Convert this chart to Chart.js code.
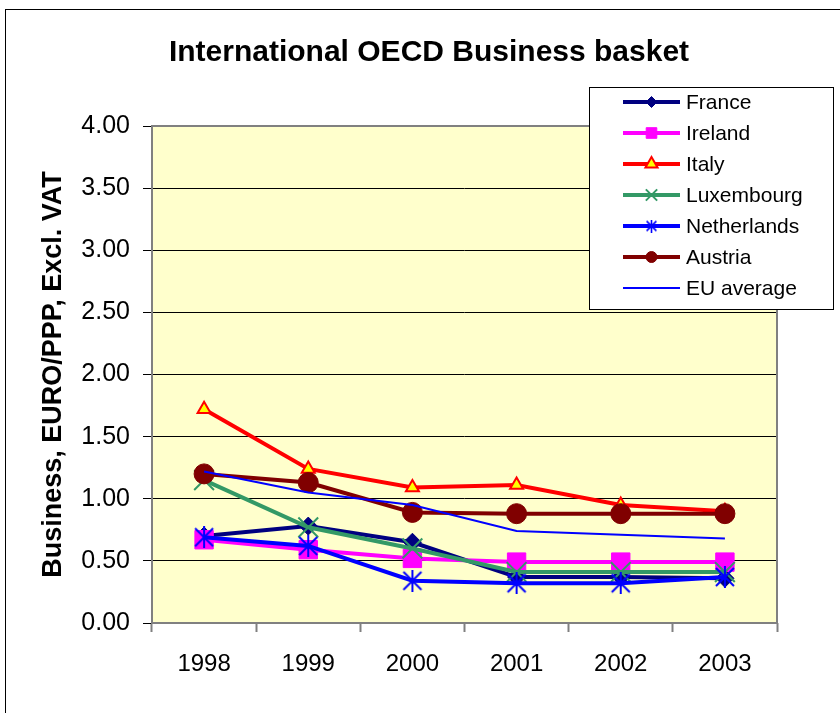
<!DOCTYPE html>
<html><head><meta charset="utf-8">
<script src="https://cdn.jsdelivr.net/npm/chart.js@4"></script>
<style>html,body{margin:0;padding:0;background:#fff;}#wrap{width:840px;height:713px;}</style>
</head><body><div id="wrap"><canvas id="c" width="840" height="713"></canvas></div>
<script>
const chartTitle = 'International OECD Business basket';
const yAxisTitle = 'Business, EURO/PPP, Excl. VAT';
const years = ['1998', '1999', '2000', '2001', '2002', '2003'];
const seriesNames = ['France', 'Ireland', 'Italy', 'Luxembourg', 'Netherlands', 'Austria', 'EU average'];
const france = [0.70, 0.78, 0.65, 0.37, 0.37, 0.36];
const ireland = [0.67, 0.59, 0.52, 0.49, 0.49, 0.49];
const italy = [1.72, 1.24, 1.09, 1.11, 0.95, 0.90];
const luxembourg = [1.15, 0.77, 0.60, 0.41, 0.41, 0.41];
const netherlands = [0.69, 0.62, 0.34, 0.32, 0.32, 0.37];
const austria = [1.20, 1.13, 0.89, 0.88, 0.88, 0.88];
const euAverage = [1.22, 1.05, 0.95, 0.74, 0.71, 0.68];
const yMin = 0, yMax = 4, yStep = 0.5;

const FONT = '"Liberation Sans", Arial, sans-serif';

function asterisk(size, lw) {
  const c = document.createElement('canvas');
  c.width = size; c.height = size;
  const g = c.getContext('2d');
  g.strokeStyle = '#0000FF'; g.lineWidth = lw; g.lineCap = 'butt';
  const m = size / 2, p = lw;
  g.beginPath();
  g.moveTo(m, 0); g.lineTo(m, size);
  g.moveTo(p, p); g.lineTo(size - p, size - p);
  g.moveTo(size - p, p); g.lineTo(p, size - p);
  g.stroke();
  return c;
}
const starBig = asterisk(22, 2);
const starSmall = asterisk(13, 1.6);

const datasets = [
  {label: seriesNames[0], data: france, borderColor: '#000080', borderWidth: 4, pointStyle: 'rectRot', pointRadius: 9, pointBackgroundColor: '#000080', pointBorderColor: '#000080', pointBorderWidth: 1, legendRadius: 5.5},
  {label: seriesNames[1], data: ireland, borderColor: '#FF00FF', borderWidth: 4, pointStyle: 'rect', pointRadius: 13, pointBackgroundColor: '#FF00FF', pointBorderColor: '#FF00FF', pointBorderWidth: 1, legendRadius: 7.5},
  {label: seriesNames[2], data: italy, borderColor: '#FF0000', borderWidth: 4, pointStyle: 'triangle', pointRadius: 7.5, pointBackgroundColor: '#FFFF00', pointBorderColor: '#FF0000', pointBorderWidth: 2, legendRadius: 7},
  {label: seriesNames[3], data: luxembourg, borderColor: '#339966', borderWidth: 4, pointStyle: 'crossRot', pointRadius: 14, pointBackgroundColor: '#339966', pointBorderColor: '#339966', pointBorderWidth: 2, legendRadius: 8},
  {label: seriesNames[4], data: netherlands, borderColor: '#0000FF', borderWidth: 4, pointStyle: starBig, legendStyle: starSmall, pointRadius: 11, pointBackgroundColor: '#0000FF', pointBorderColor: '#0000FF', pointBorderWidth: 2, legendRadius: 6},
  {label: seriesNames[5], data: austria, borderColor: '#800000', borderWidth: 4, pointStyle: 'circle', pointRadius: 10, pointBackgroundColor: '#800000', pointBorderColor: '#800000', pointBorderWidth: 1, legendRadius: 5.5},
  {label: seriesNames[6], data: euAverage, borderColor: '#0000FF', borderWidth: 2, pointRadius: 0, pointBorderWidth: 0}
].map((d, i) => Object.assign({order: -i, tension: 0, fill: false, pointHoverRadius: d.pointRadius}, d));

const decorPlugin = {
  id: 'decor',
  beforeDraw(chart) {
    const ctx = chart.ctx, a = chart.chartArea;
    ctx.save();
    ctx.fillStyle = '#FFFFFF';
    ctx.fillRect(0, 0, chart.width, chart.height);
    ctx.fillStyle = '#FFFFCC';
    ctx.fillRect(a.left, a.top, a.right - a.left, a.bottom - a.top);
    ctx.restore();
  },
  beforeDatasetsDraw(chart) {
    const ctx = chart.ctx, a = chart.chartArea;
    ctx.save();
    ctx.strokeStyle = '#808080'; ctx.lineWidth = 2;
    ctx.strokeRect(a.left, a.top, a.right - a.left, a.bottom - a.top);
    ctx.restore();
  },
  afterDraw(chart) {
    const ctx = chart.ctx;
    ctx.save();
    ctx.strokeStyle = '#000000'; ctx.lineWidth = 1;
    ctx.strokeRect(5.5, 9.5, 900, 800);
    ctx.fillStyle = '#000'; ctx.font = 'bold 30px ' + FONT;
    ctx.textAlign = 'center'; ctx.textBaseline = 'alphabetic';
    ctx.fillText(chartTitle, 429, 61);
    ctx.fillStyle = '#FFFFFF';
    ctx.fillRect(589, 87, 244, 222);
    ctx.strokeStyle = '#000'; ctx.lineWidth = 1;
    ctx.strokeRect(589.5, 87.5, 244, 222);
    chart.data.datasets.forEach((ds, i) => {
      const y = 102 + i * 31;
      ctx.strokeStyle = ds.borderColor; ctx.lineWidth = ds.borderWidth;
      ctx.beginPath(); ctx.moveTo(623, y); ctx.lineTo(680, y); ctx.stroke();
      if (ds.pointRadius > 0) {
        ctx.fillStyle = ds.pointBackgroundColor; ctx.strokeStyle = ds.pointBorderColor; ctx.lineWidth = ds.pointBorderWidth;
        Chart.helpers.drawPoint(ctx, {pointStyle: ds.legendStyle || ds.pointStyle, radius: ds.legendRadius, borderWidth: ds.pointBorderWidth, rotation: 0}, 651.5, y);
      }
      ctx.fillStyle = '#000'; ctx.font = '21px ' + FONT;
      ctx.textAlign = 'left'; ctx.textBaseline = 'middle';
      ctx.fillText(ds.label, 686, y + 1);
    });
    ctx.restore();
  }
};

new Chart(document.getElementById('c'), {
  type: 'line',
  data: {labels: years, datasets: datasets},
  options: {
    responsive: false,
    animation: false,
    devicePixelRatio: 1,
    layout: {padding: {left: 10, right: 63, top: 126, bottom: 0}},
    plugins: {legend: {display: false}, tooltip: {enabled: false}, title: {display: false}},
    scales: {
      x: {
        offset: true,
        grid: {offset: true, drawOnChartArea: false, drawTicks: true, tickLength: 9, tickColor: '#808080', tickWidth: 2},
        border: {display: false},
        ticks: {color: '#000', font: {family: FONT, size: 24}, padding: 18, maxRotation: 0},
        afterFit(s) { s.height = 90; }
      },
      y: {
        min: yMin, max: yMax,
        grid: {color: '#000', lineWidth: 1, drawTicks: true, tickLength: 9, tickColor: '#000'},
        border: {display: false},
        ticks: {stepSize: yStep, color: '#000', font: {family: FONT, size: 25}, padding: 13, callback: v => Number(v).toFixed(2)},
        title: {display: true, text: yAxisTitle, color: '#000', font: {family: FONT, size: 27, weight: 'bold'}, padding: {top: 27, bottom: 0}},
        afterFit(s) { s.width = 142; }
      }
    }
  },
  plugins: [decorPlugin]
});
</script></body></html>
